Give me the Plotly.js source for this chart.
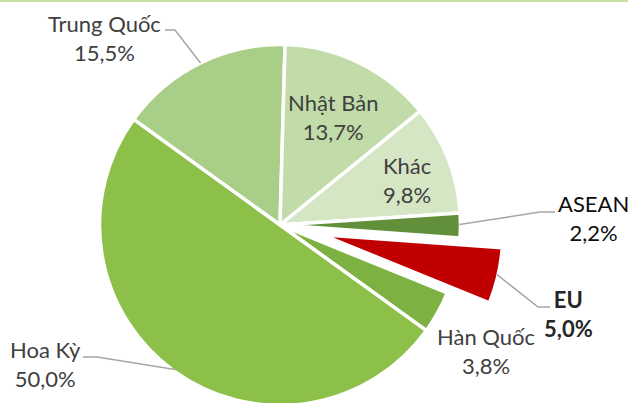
<!DOCTYPE html>
<html>
<head>
<meta charset="utf-8">
<script src="https://cdn.plot.ly/plotly-3.0.1.min.js"></script>
<style>
html,body{margin:0;padding:0;overflow:hidden;background:#fff;width:628px;height:403px;}
#chart{width:628px;height:500px;}
</style>
</head>
<body>
<div id="chart"></div>
<script>
// ---- data ----
const labels = ['Trung Quốc', 'Nhật Bản', 'Khác', 'ASEAN', 'EU', 'Hàn Quốc', 'Hoa Kỳ'];
const values = [15.5, 13.7, 9.8, 2.2, 5.0, 3.8, 50.0];

// ---- styles / layout (not data) ----
const colors = ['#A9CE88', '#C2DCA9', '#D5E6C5', '#62903A', '#C00000', '#7DB243', '#8CC048'];
const pulls = [0, 0, 0, 0, 0.24, 0, 0];
const textColors = ['#404040', '#404040', '#404040', '#0D0D0D', '#262626', '#404040', '#404040'];
const bold = [false, false, false, false, true, false, false];
// label block centres in pixels
const labelX = [104, 333, 407, 593, 568, 486, 45];
const labelY = [38.5, 117.4, 180.3, 218.2, 313.5, 350.5, 363.7];
// leader elbows: [elbowX, elbowY, endX, endY] or null
const leaders = [[175, 30, 165, 30], null, null, [540, 212, 555, 212], [538, 307, 550, 307], null, [97, 357, 83, 357]];

const W = 628, H = 500;
const cx = 280, cy = 224, R = 180.5, maxPull = 0.24;
const rotation = -54.2;
const half = R * (1 + maxPull);

const px = x => x / W;
const py = y => 1 - y / H;

const total = values.reduce((a, b) => a + b, 0);
let acc = 0;
const annotations = [];
const shapes = [{
  type: 'rect', xref: 'paper', yref: 'paper', x0: 0, x1: 1, y0: py(2), y1: 1,
  fillcolor: '#C5E0A5', line: {width: 0}
}];
labels.forEach((name, i) => {
  const midDeg = rotation + (acc + values[i] / 2) / total * 360;
  acc += values[i];
  const a = midDeg * Math.PI / 180;
  const pc = pulls[i] * R;
  const ex = cx + (R - 1 + pc) * Math.sin(a);
  const ey = cy - (R - 1 + pc) * Math.cos(a);
  const pct = values[i].toFixed(1).replace('.', ',') + '%';
  const text = bold[i] ? '<b>' + name + '</b><br><b>' + pct + '</b>' : name + '<br>' + pct;
  annotations.push({
    xref: 'paper', yref: 'paper', x: px(labelX[i]), y: py(labelY[i]),
    xanchor: 'center', yanchor: 'middle', showarrow: false, text: text,
    font: {family: 'Lato, "Noto Sans", sans-serif', size: 22, color: textColors[i]}
  });
  const L = leaders[i];
  if (L) {
    shapes.push({
      type: 'path', xref: 'paper', yref: 'paper',
      path: 'M ' + px(ex) + ',' + py(ey) + ' L ' + px(L[0]) + ',' + py(L[1]) + ' L ' + px(L[2]) + ',' + py(L[3]),
      line: {color: '#A6A6A6', width: 1.5}
    });
  }
});

const trace = {
  type: 'pie',
  labels: labels,
  values: values,
  sort: false,
  direction: 'clockwise',
  rotation: rotation,
  pull: pulls,
  marker: {colors: colors, line: {color: '#FFFFFF', width: 3.5}},
  textinfo: 'none',
  hoverinfo: 'none',
  showlegend: false,
  domain: {x: [px(cx - half), px(cx + half)], y: [py(cy + 226), 1]}
};

Plotly.newPlot('chart', [trace], {
  width: W, height: H,
  margin: {l: 0, r: 0, t: 0, b: 0},
  paper_bgcolor: '#FFFFFF',
  showlegend: false,
  annotations: annotations,
  shapes: shapes
}, {displayModeBar: false, staticPlot: true});
</script>
</body>
</html>
